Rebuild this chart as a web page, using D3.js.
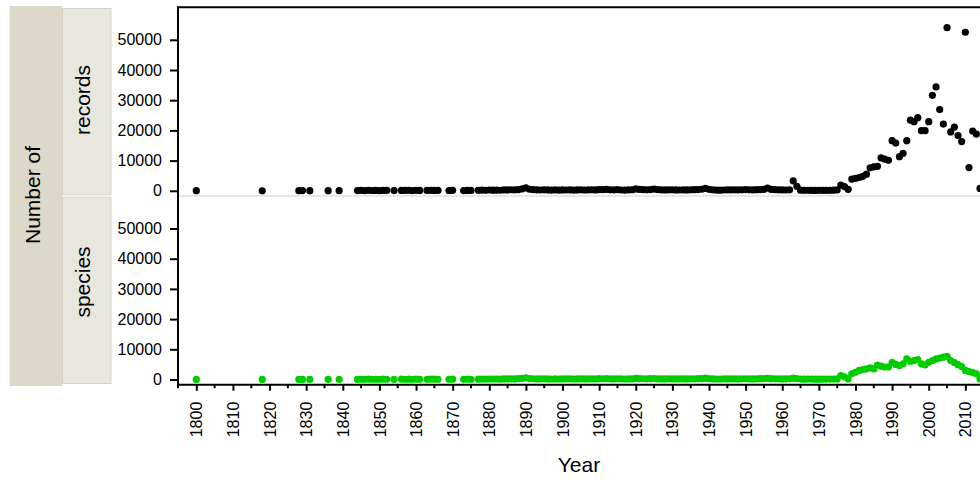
<!DOCTYPE html>
<html>
<head>
<meta charset="utf-8">
<script src="https://cdnjs.cloudflare.com/ajax/libs/d3/7.8.5/d3.min.js"></script>
<style>
  body { margin: 0; background: #fff; }
  svg text { font-family: "Liberation Sans", Arial, sans-serif; fill: #000; }
</style>
</head>
<body>
<div id="chart"></div>
<script>
'use strict';

// data //
// -------------------------- //
var years = [
    1800, 1818, 1828, 1829, 1831, 1836, 1839, 1844, 1845, 1846,
    1847, 1848, 1849, 1850, 1851, 1852, 1854, 1856, 1857, 1858,
    1859, 1860, 1861, 1863, 1864, 1865, 1866, 1869, 1870, 1873,
    1874, 1875,
    1877, 1878, 1879, 1880, 1881, 1882, 1883, 1884, 1885, 1886,
    1887, 1888, 1889, 1890, 1891, 1892, 1893, 1894, 1895, 1896,
    1897, 1898, 1899, 1900, 1901, 1902, 1903, 1904, 1905, 1906,
    1907, 1908, 1909, 1910, 1911, 1912, 1913, 1914, 1915, 1916,
    1917, 1918, 1919, 1920, 1921, 1922, 1923, 1924, 1925, 1926,
    1927, 1928, 1929, 1930, 1931, 1932, 1933, 1934, 1935, 1936,
    1937, 1938, 1939, 1940, 1941, 1942, 1943, 1944, 1945, 1946,
    1947, 1948, 1949, 1950, 1951, 1952, 1953, 1954, 1955, 1956,
    1957, 1958, 1959, 1960, 1961, 1962, 1963, 1964, 1965, 1966,
    1967, 1968, 1969, 1970, 1971, 1972, 1973, 1974, 1975, 1976,
    1977, 1978, 1979, 1980, 1981, 1982, 1983, 1984, 1985, 1986,
    1987, 1988, 1989, 1990, 1991, 1992, 1993, 1994, 1995, 1996,
    1997, 1998, 1999, 2000, 2001, 2002, 2003, 2004, 2005, 2006,
    2007, 2008, 2009, 2010, 2011, 2012, 2013, 2014
];

var records = [
    30, 20, 40, 60, 30, 50, 40, 80, 120, 90,
    150, 100, 130, 90, 160, 110, 70, 140, 120, 180,
    90, 150, 130, 110, 160, 140, 120, 100, 170, 90,
    140, 120,
    180, 220, 150, 260, 200, 240, 190, 310, 280, 350,
    300, 420, 650, 1000, 520, 380, 300, 260, 340, 280,
    250, 300, 220, 280, 260, 310, 240, 290, 330, 270,
    300, 350, 280, 420, 380, 450, 340, 300, 380, 260,
    240, 300, 350, 620, 450, 380, 330, 400, 560, 370,
    300, 280, 320, 350, 290, 260, 300, 280, 330, 360,
    400, 520, 800, 480, 350, 240, 200, 260, 300, 320,
    350, 300, 330, 380, 340, 300, 360, 420, 500, 900,
    450, 380, 320, 300, 260, 340, 3300, 1500, 200, 150,
    180, 160, 140, 150, 170, 160, 180, 200, 300, 1900,
    1400, 500, 3900, 4100, 4400, 4800, 5500, 7600, 7900, 8100,
    10900, 10500, 10100, 16600, 15800, 11300, 12400, 16600, 23400, 22900,
    24200, 19900, 19900, 22900, 31600, 34400, 26900, 22100, 54000, 19500,
    21100, 18300, 16300, 52500, 7700, 19800, 18800, 800
];

var species = [
    20, 15, 30, 40, 25, 35, 30, 60, 80, 70,
    100, 80, 90, 70, 110, 80, 50, 100, 90, 120,
    70, 110, 90, 80, 110, 100, 90, 80, 120, 70,
    100, 90,
    120, 150, 110, 170, 140, 160, 130, 200, 180, 230,
    200, 260, 380, 560, 320, 250, 200, 180, 220, 190,
    170, 200, 160, 190, 180, 210, 170, 200, 220, 190,
    200, 230, 190, 270, 250, 290, 230, 200, 250, 180,
    170, 200, 230, 380, 290, 250, 220, 260, 340, 240,
    200, 190, 210, 230, 200, 180, 200, 190, 220, 240,
    260, 320, 450, 300, 230, 170, 150, 180, 200, 210,
    230, 200, 220, 250, 230, 200, 240, 270, 300, 380,
    280, 250, 220, 200, 180, 220, 450, 300, 150, 120,
    140, 130, 120, 120, 130, 130, 140, 150, 200, 1300,
    900, 200, 1900, 2400, 3000, 3300, 3500, 3900, 3500, 4800,
    4400, 4100, 4100, 5700, 5000, 4600, 5200, 6800, 6000, 6300,
    6600, 5200, 4800, 5700, 6300, 6800, 7100, 7400, 7700, 6300,
    5600, 4900, 4300, 3000, 2600, 2300, 1900, 200
];

var panelNames = ["records", "species"];
var panelColors = ["#000000", "#00cd00"];
var yTickValues = [0, 10000, 20000, 30000, 40000, 50000];
var xTickLabels = [1800, 1810, 1820, 1830, 1840, 1850, 1860, 1870, 1880, 1890, 1900,
                   1910, 1920, 1930, 1940, 1950, 1960, 1970, 1980, 1990, 2000, 2010];

// layout //
// ------ //
var W = 980, H = 483,
    plot = {left: 178, right: 980, top: 7.3, bottom: 384.7},
    panelH = (plot.bottom - plot.top) / 2;

var svg = d3.select("#chart").append("svg")
    .attr("width", W).attr("height", H)
    .style("display", "block");

var x = d3.scaleLinear().domain([1795, 2014]).range([plot.left, plot.right]);

// strips on the left
svg.append("rect")
    .attr("x", 9.5).attr("y", 6)
    .attr("width", 52.5).attr("height", 380)
    .attr("fill", "#dcd8ca");

svg.append("text")
    .attr("transform", "translate(40,195) rotate(-90)")
    .attr("text-anchor", "middle")
    .style("font-size", "21px")
    .text("Number of");

var stripCenters = [100, 282];

panelNames.forEach(function (name, i) {
    var y0 = plot.top + i * panelH,
        y = d3.scaleLinear().domain([-1720, 60760]).range([y0 + panelH, y0]),
        vals = i === 0 ? records : species,
        pts = years.map(function (yr, k) { return {year: yr, value: vals[k]}; });

    svg.append("rect")
        .attr("x", 62.5).attr("y", y0 + 1.2)
        .attr("width", 48.5).attr("height", panelH - 2.4)
        .attr("fill", "#e7e7df")
        .attr("stroke", "#d6d2c2")
        .attr("stroke-width", 1);

    svg.append("text")
        .attr("transform", "translate(90," + stripCenters[i] + ") rotate(-90)")
        .attr("text-anchor", "middle")
        .style("font-size", "21px")
        .text(name);

    // y axis
    var yAxis = svg.append("g")
        .attr("transform", "translate(" + plot.left + ",0)")
        .call(d3.axisLeft(y).tickValues(yTickValues).tickSize(8).tickPadding(8)
              .tickFormat(d3.format("d")));
    yAxis.select(".domain").remove();
    yAxis.selectAll(".tick line").attr("stroke", "#000").attr("stroke-width", 2);
    yAxis.selectAll(".tick text")
        .style("font-size", "16px")
        .style("font-family", '"Liberation Sans", Arial, sans-serif')
        .attr("fill", "#000");

    // separator under the top panel
    if (i === 0) {
        svg.append("line")
            .attr("x1", plot.left).attr("x2", plot.right)
            .attr("y1", y0 + panelH).attr("y2", y0 + panelH)
            .attr("stroke", "#d0d0d0").attr("stroke-width", 1.2);
    }

    svg.append("g").selectAll("circle")
        .data(pts)
        .enter()
        .append("circle")
        .attr("cx", function (d) { return x(d.year); })
        .attr("cy", function (d) { return y(d.value); })
        .attr("r", 3.6)
        .attr("fill", panelColors[i]);
});

// frame lines: top, left, bottom
svg.append("line")
    .attr("x1", plot.left).attr("x2", plot.right)
    .attr("y1", plot.top).attr("y2", plot.top)
    .attr("stroke", "#000").attr("stroke-width", 2);
svg.append("line")
    .attr("x1", plot.left).attr("x2", plot.left)
    .attr("y1", plot.top - 1).attr("y2", plot.bottom + 1)
    .attr("stroke", "#000").attr("stroke-width", 2);

// x axis, major ticks every 10 years, minor every 5
var xAxis = svg.append("g")
    .attr("transform", "translate(0," + plot.bottom + ")")
    .call(d3.axisBottom(x).tickValues(xTickLabels).tickSize(6).tickPadding(17)
          .tickFormat(d3.format("d")));
xAxis.select(".domain").remove();
xAxis.selectAll(".tick line").attr("stroke", "#000").attr("stroke-width", 2);
xAxis.selectAll(".tick text")
    .style("font-size", "16px")
    .style("font-family", '"Liberation Sans", Arial, sans-serif')
    .attr("fill", "#000")
    .attr("text-anchor", "end")
    .attr("transform", "rotate(-90)")
    .attr("x", -17).attr("y", 0).attr("dy", "0.35em");

svg.append("g")
    .attr("transform", "translate(0," + plot.bottom + ")")
    .selectAll("line")
    .data(d3.range(1795, 2014, 10))
    .enter()
    .append("line")
    .attr("x1", function (d) { return x(d); })
    .attr("x2", function (d) { return x(d); })
    .attr("y1", 0).attr("y2", 3.5)
    .attr("stroke", "#000").attr("stroke-width", 2);

svg.append("line")
    .attr("x1", plot.left - 1).attr("x2", plot.right)
    .attr("y1", plot.bottom).attr("y2", plot.bottom)
    .attr("stroke", "#000").attr("stroke-width", 2);

svg.append("text")
    .attr("x", (plot.left + plot.right) / 2)
    .attr("y", 472)
    .attr("text-anchor", "middle")
    .style("font-size", "21px")
    .text("Year");
</script>
</body>
</html>
